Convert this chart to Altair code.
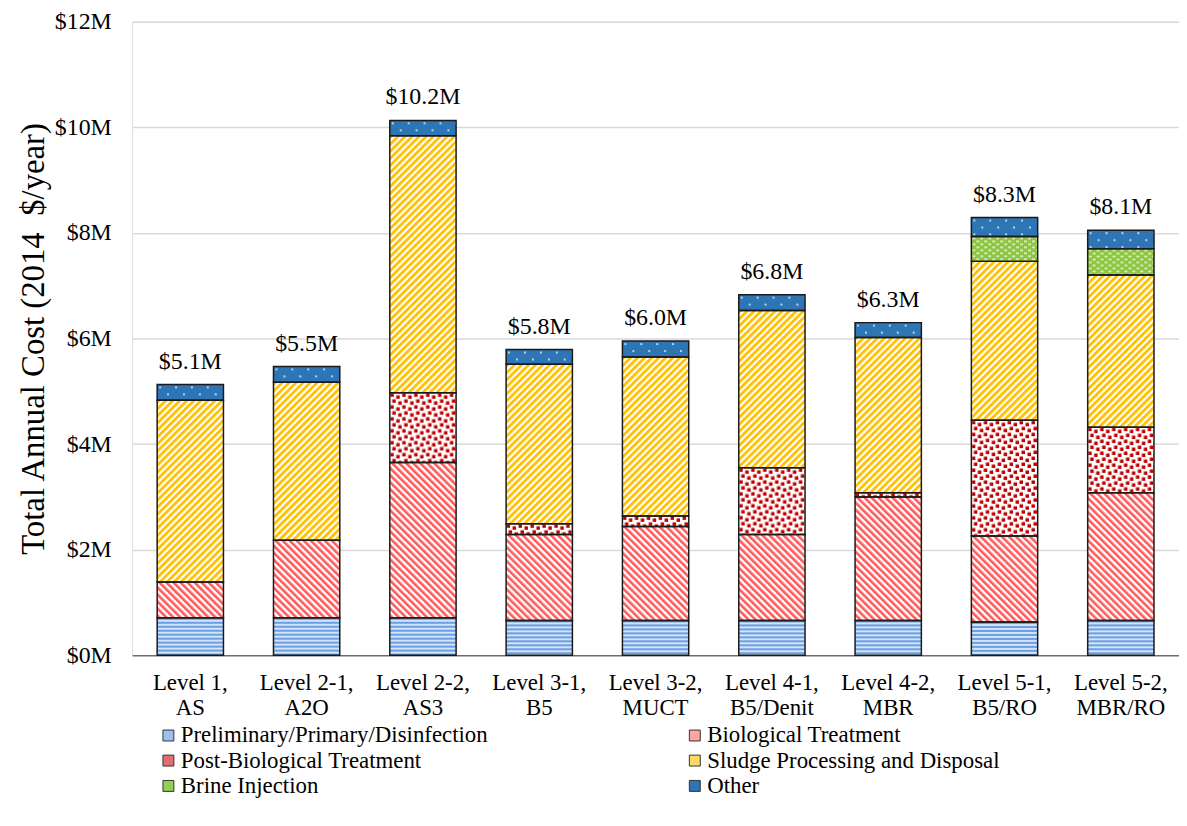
import altair as alt
import pandas as pd
from urllib.parse import quote

# ---------------- data ----------------
levels = ["Level 1,|AS", "Level 2-1,|A2O", "Level 2-2,|AS3", "Level 3-1,|B5",
          "Level 3-2,|MUCT", "Level 4-1,|B5/Denit", "Level 4-2,|MBR",
          "Level 5-1,|B5/RO", "Level 5-2,|MBR/RO"]
categories = ["Preliminary/Primary/Disinfection", "Biological Treatment",
              "Post-Biological Treatment", "Sludge Processing and Disposal",
              "Brine Injection", "Other"]

preliminary = [0.71, 0.71, 0.71, 0.66, 0.66, 0.66, 0.66, 0.63, 0.66]
biological  = [0.68, 1.47, 2.94, 1.63, 1.78, 1.63, 2.34, 1.63, 2.42]
post_bio    = [0.00, 0.00, 1.32, 0.20, 0.20, 1.26, 0.08, 2.19, 1.24]
sludge      = [3.44, 2.99, 4.87, 3.02, 3.01, 2.98, 2.94, 3.01, 2.88]
brine       = [0.00, 0.00, 0.00, 0.00, 0.00, 0.00, 0.00, 0.47, 0.50]
other       = [0.30, 0.30, 0.29, 0.28, 0.30, 0.30, 0.28, 0.36, 0.35]
total_labels = ["$5.1M", "$5.5M", "$10.2M", "$5.8M", "$6.0M", "$6.8M",
                "$6.3M", "$8.3M", "$8.1M"]

series = [preliminary, biological, post_bio, sludge, brine, other]

# ---------------- styles ----------------
solid_colors = ["#9dbfee", "#ffa3a3", "#e07070", "#ffd966", "#92d050", "#2e75b6"]


def pattern_uri(w, h, content, transform=""):
    tr = f" patternTransform='{transform}'" if transform else ""
    svg = ("<svg xmlns='http://www.w3.org/2000/svg' width='100%' height='100%'>"
           f"<defs><pattern id='p' patternUnits='userSpaceOnUse' width='{w}' height='{h}'{tr}>"
           f"{content}</pattern></defs>"
           "<rect x='0' y='0' width='100%' height='100%' fill='url(#p)'/></svg>")
    return "data:image/svg+xml;charset=utf-8," + quote(svg)


patterns = [
    pattern_uri(4, 4, "<rect width='4' height='4' fill='#d3e3f8'/>"
                      "<rect width='4' height='2' fill='#6a9fe3'/>"),
    pattern_uri(5, 5, "<rect width='5' height='5' fill='#ffffff'/>"
                      "<rect width='2.6' height='5' fill='#ff5a5a'/>", "rotate(-45)"),
    pattern_uri(12, 12, "<rect width='12' height='12' fill='#ffffff'/>"
                        "<rect x='0.5' y='0.5' width='3.5' height='3.5' fill='#c00000'/>"
                        "<rect x='6.5' y='2.5' width='3.5' height='3.5' fill='#c00000'/>"
                        "<rect x='2.5' y='6.5' width='3.5' height='3.5' fill='#c00000'/>"
                        "<rect x='8.5' y='8.5' width='3.5' height='3.5' fill='#c00000'/>"),
    pattern_uri(5, 5, "<rect width='5' height='5' fill='#ffffff'/>"
                      "<rect width='2.8' height='5' fill='#ffc000'/>", "rotate(45)"),
    pattern_uri(8, 6, "<rect width='8' height='6' fill='#8dc63f'/>"
                      "<rect x='1' y='1' width='3' height='1.6' fill='#e4f2d2'/>"
                      "<rect x='5' y='4' width='3' height='1.6' fill='#e4f2d2'/>"),
    pattern_uri(16, 14, "<rect width='16' height='14' fill='#2e75b6'/>"
                        "<circle cx='3' cy='3' r='0.9' fill='#ffffff'/>"
                        "<circle cx='11' cy='10' r='0.9' fill='#ffffff'/>"),
]

rows = []
for ci, (cat, vals) in enumerate(zip(categories, series)):
    for li, lev in enumerate(levels):
        rows.append({"level": lev, "category": cat, "order": ci,
                     "value": vals[li], "pat": patterns[ci]})
df = pd.DataFrame(rows)

totals = pd.DataFrame({
    "level": levels,
    "total": [sum(s[i] for s in series) for i in range(len(levels))],
    "label": total_labels,
})

FONT = "Liberation Serif, Times New Roman, serif"

x_enc = alt.X("level:N", sort=levels,
              scale=alt.Scale(paddingInner=0.43, paddingOuter=0.215),
              axis=alt.Axis(title=None, labelAngle=0, ticks=False,
                            domainColor="#404040", domainWidth=1,
                            labelExpr="split(datum.label, '|')",
                            labelFontSize=23, labelFont=FONT, labelColor="#000",
                            labelLineHeight=26, labelPadding=16))

base = alt.Chart(df).transform_filter("datum.value > 0").transform_stack(
    stack="value", groupby=["level"], as_=["y0", "y1"],
    sort=[alt.SortField("order", order="ascending")])

y_enc = alt.Y("y0:Q",
              scale=alt.Scale(domain=[0, 12], nice=False),
              axis=alt.Axis(title="Total Annual Cost (2014\u00a0\u00a0$/year)",
                            values=[0, 2, 4, 6, 8, 10, 12],
                            labelExpr="'$' + datum.value + 'M'",
                            labelFontSize=24, labelFont=FONT, labelColor="#000",
                            labelPadding=21, ticks=False, domain=False,
                            gridColor="#d9d9d9", gridWidth=1.5,
                            titleFont=FONT, titleFontSize=33, titleFontWeight="normal",
                            titleColor="#000", titlePadding=4))

bars = base.mark_bar(stroke=None).encode(
    x=x_enc,
    y=y_enc,
    y2="y1:Q",
    color=alt.Color("category:N", sort=categories,
                    scale=alt.Scale(domain=categories, range=solid_colors),
                    legend=alt.Legend(title=None, orient="none", legendX=25, legendY=707,
                                      direction="horizontal",
                                      columns=2, columnPadding=196, rowPadding=1.5,
                                      symbolType="square", symbolSize=121,
                                      symbolStrokeColor="#333", symbolStrokeWidth=1,
                                      labelFont=FONT, labelFontSize=23, labelColor="#000",
                                      labelOffset=1, padding=0, labelLimit=500)),
)

imgs = base.mark_image(aspect=False).encode(
    x=alt.X("level:N", sort=levels),
    y="y0:Q",
    y2="y1:Q",
    url="pat:N",
)

outline = base.mark_bar(fillOpacity=0, stroke="#1a1a1a", strokeWidth=1.5).encode(
    x=alt.X("level:N", sort=levels),
    y="y0:Q",
    y2="y1:Q",
)

text = alt.Chart(totals).mark_text(dy=-16, baseline="alphabetic", fontSize=24,
                                   font=FONT, color="#000").encode(
    x=alt.X("level:N", sort=levels),
    y=alt.Y("total:Q"),
    text="label:N",
)

chart = alt.layer(bars, imgs, outline, text).properties(
    width=1054, height=638,
    padding={"left": 125, "top": 11, "right": 0, "bottom": 150},
    autosize=alt.AutoSizeParams(type="none"),
).configure_view(stroke=None).configure(background="#ffffff")

chart.save("out.html", embed_options={"renderer": "svg", "actions": False})
